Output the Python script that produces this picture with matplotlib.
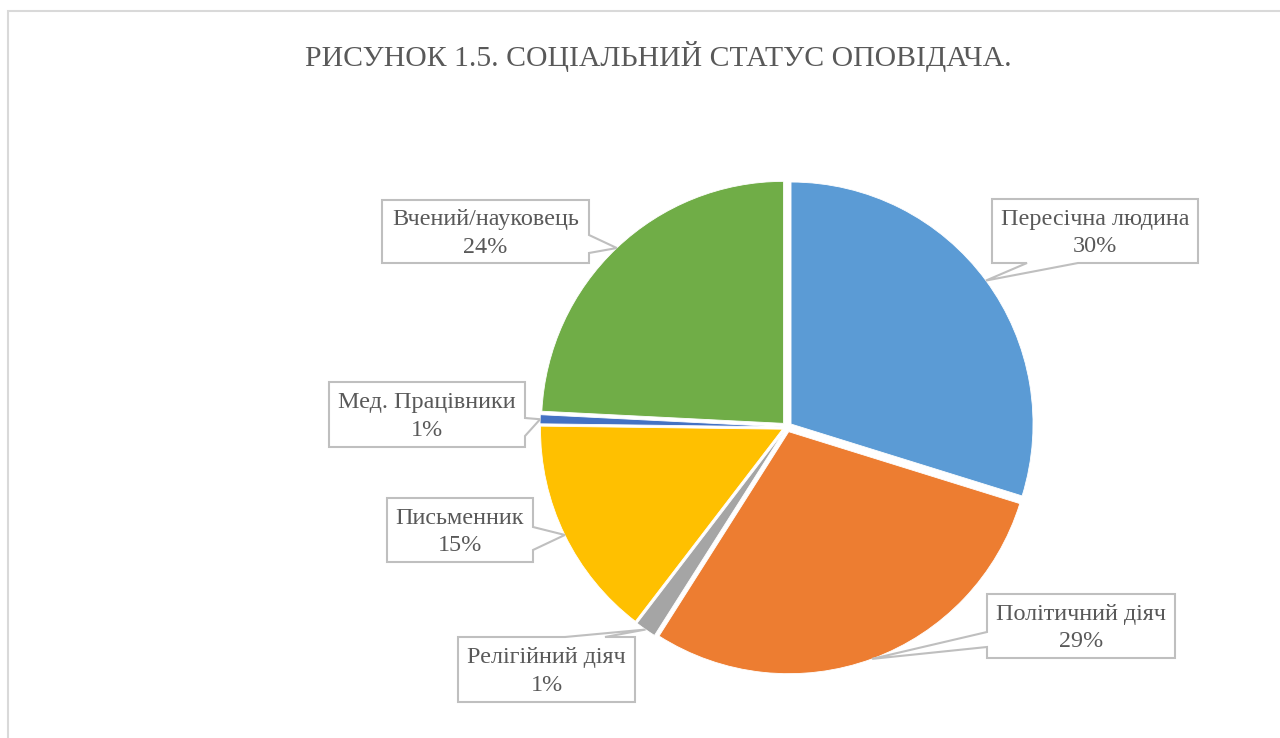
import matplotlib
matplotlib.use("Agg")
import matplotlib.pyplot as plt
from matplotlib.patches import Polygon, Rectangle
import numpy as np

# ---- data ----
categories = ["Пересічна людина", "Політичний діяч", "Релігійний діяч",
              "Письменник", "Мед. Працівники", "Вчений/науковець"]
values = [29.8, 29.2, 1.4, 14.8, 0.6, 24.2]
colors = ["#5B9BD5", "#ED7D31", "#A5A5A5", "#FFC000", "#4472C4", "#70AD47"]
title = "РИСУНОК 1.5. СОЦІАЛЬНИЙ СТАТУС ОПОВІДАЧА."

W, H = 1280, 738
fig = plt.figure(figsize=(W / 100, H / 100), dpi=100)
ax = fig.add_axes([0, 0, 1, 1])

def py(y):  # pixel-from-top to axes y
    return H - y

FONT = ["Liberation Serif", "DejaVu Serif"]
TXT = "#595959"
BOX = "#BFBFBF"

# ---- pie ----
cx, cy, R = 787, py(427), 242
wedges, _ = ax.pie(values, colors=colors, startangle=90, counterclock=False,
                   center=(cx, cy), radius=R, explode=[5] * len(values),
                   wedgeprops=dict(edgecolor="white", linewidth=0.6),
                   frame=True)
ax.set_xlim(0, W)
ax.set_ylim(0, H)
ax.set_aspect("equal")
ax.axis("off")

# chart frame
ax.add_patch(Rectangle((8, py(11) - 800), 1400, 800, fill=False,
                       edgecolor="#D9D9D9", linewidth=1.5, zorder=0))

ax.text(658, py(56), title, ha="center", va="center", fontsize=21.4,
        family=FONT, color=TXT)

total = sum(values)

# label box layouts: (x0, y0, x1, y1) in pixels-from-top, side, base (a, b)
layouts = [
    ((992, 199, 1198, 263), "bottom", (1027, 1078)),
    ((987, 594, 1175, 658), "left", (632, 647)),
    ((458, 637, 635, 702), "top", (565, 605)),
    ((387, 498, 533, 562), "right", (527, 550)),
    ((329, 382, 525, 447), "right", (418, 436)),
    ((382, 200, 589, 263), "right", (235, 253)),
]

for w, cat, v, (box, side, base) in zip(wedges, categories, values, layouts):
    mid = np.deg2rad((w.theta1 + w.theta2) / 2)
    wx, wy = w.center
    tip = (wx + w.r * np.cos(mid), wy + w.r * np.sin(mid))
    x0, y0, x1, y1 = box
    Y0, Y1 = py(y0), py(y1)  # Y0 top, Y1 bottom
    a, b = base
    if side == "right":
        verts = [(x0, Y0), (x1, Y0), (x1, py(a)), tip, (x1, py(b)), (x1, Y1), (x0, Y1)]
    elif side == "left":
        verts = [(x0, Y0), (x1, Y0), (x1, Y1), (x0, Y1), (x0, py(b)), tip, (x0, py(a))]
    elif side == "top":
        verts = [(x0, Y0), (a, Y0), tip, (b, Y0), (x1, Y0), (x1, Y1), (x0, Y1)]
    else:  # bottom
        verts = [(x0, Y0), (x1, Y0), (x1, Y1), (b, Y1), tip, (a, Y1), (x0, Y1)]
    ax.add_patch(Polygon(verts, closed=True, facecolor="white", edgecolor=BOX,
                         linewidth=1.5, zorder=5))
    pct = f"{round(v / total * 100)}%"
    ax.text((x0 + x1) / 2, (Y0 + Y1) / 2 - 2, f"{cat}\n{pct}", ha="center",
            va="center", fontsize=17.4, family=FONT, color=TXT,
            linespacing=1.42, zorder=6)

fig.savefig("out.png", dpi=100, facecolor="white")
